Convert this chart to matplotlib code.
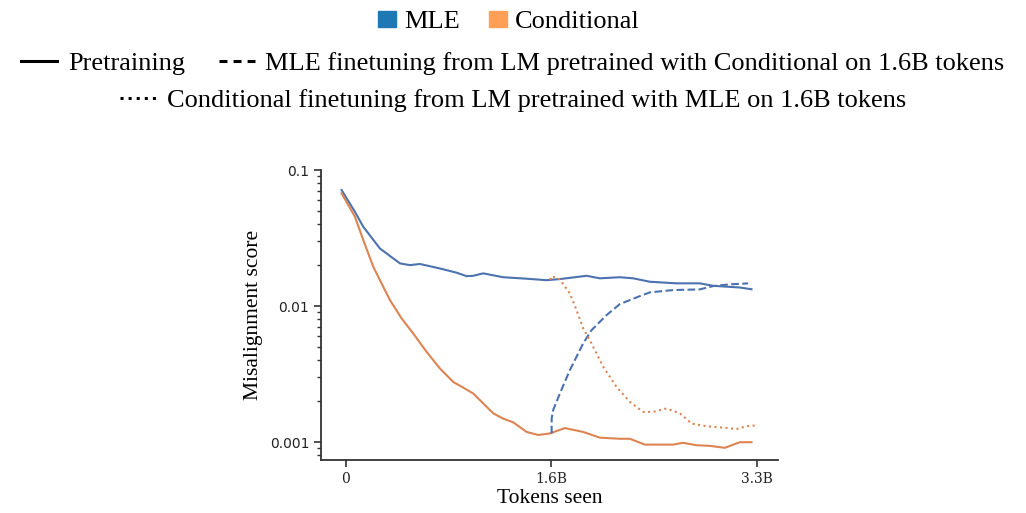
import matplotlib
matplotlib.use('Agg')
import matplotlib.pyplot as plt
from matplotlib.lines import Line2D
from matplotlib.patches import Patch
from matplotlib.ticker import LogLocator, FixedLocator, NullFormatter

# tokens seen (billions) and misalignment scores
mle_x = [-0.035, 0.072, 0.139, 0.273, 0.434, 0.514, 0.594, 0.755, 0.889, 0.969,
         1.022, 1.102, 1.263, 1.451, 1.611, 1.718, 1.933, 2.039, 2.200, 2.307,
         2.441, 2.655, 2.842, 2.949, 3.163, 3.257]
mle_y = [0.0713, 0.0493, 0.0383, 0.0265, 0.0206, 0.0200, 0.0204, 0.0189, 0.0176,
         0.0166, 0.0167, 0.0174, 0.0163, 0.0159, 0.0155, 0.0158, 0.0167, 0.0160,
         0.0163, 0.0160, 0.0151, 0.0147, 0.0147, 0.0141, 0.0137, 0.0133]

cond_x = [-0.035, 0.072, 0.139, 0.219, 0.299, 0.353, 0.447, 0.540, 0.648, 0.755,
          0.862, 0.942, 1.022, 1.102, 1.183, 1.263, 1.343, 1.451, 1.544, 1.638,
          1.758, 1.905, 2.039, 2.200, 2.280, 2.401, 2.628, 2.706, 2.816, 2.923,
          3.043, 3.163, 3.257]
cond_y = [0.0674, 0.0454, 0.0306, 0.0195, 0.0139, 0.0111, 0.00812, 0.00630,
          0.00461, 0.00348, 0.00277, 0.00252, 0.00228, 0.00193, 0.00163, 0.00149,
          0.00140, 0.00119, 0.00113, 0.00116, 0.00127, 0.00119, 0.00108, 0.00106,
          0.00106, 0.00096, 0.00096, 0.00099, 0.00095, 0.00094, 0.00091, 0.00100,
          0.00100]

# MLE finetuning from an LM pretrained with Conditional
mle_ft_x = [1.652, 1.652, 1.664, 1.718, 1.798, 1.905, 1.973, 2.093, 2.200, 2.361,
            2.441, 2.628, 2.842, 2.949, 3.083, 3.230]
mle_ft_y = [0.00116, 0.00149, 0.00172, 0.00228, 0.00338, 0.00532, 0.00667,
            0.00859, 0.01035, 0.01185, 0.01262, 0.01312, 0.01327, 0.01403,
            0.01445, 0.01469]

# Conditional finetuning from an LM pretrained with MLE
cond_ft_x = [1.640, 1.652, 1.718, 1.798, 1.852, 1.905, 1.959, 2.066, 2.173, 2.280,
             2.387, 2.467, 2.575, 2.682, 2.776, 2.896, 3.029, 3.137, 3.217, 3.298]
cond_ft_y = [0.0156, 0.01663, 0.01571, 0.01239, 0.00935, 0.00686, 0.00562,
             0.00358, 0.00255, 0.00198, 0.00167, 0.00167, 0.00177, 0.00163,
             0.00137, 0.00131, 0.00128, 0.00125, 0.00131, 0.00133]

x_ticks = [0, 1.65, 3.3]
x_ticklabels = ['0', '1.6B', '3.3B']
y_ticks = [0.001, 0.01, 0.1]
y_ticklabels = ['0.001', '0.01', '0.1']

BLUE = '#4c72b0'
ORANGE = '#dd8452'
SERIF = ['Liberation Serif', 'DejaVu Serif']

fig = plt.figure(figsize=(10.26, 5.13), dpi=100)
ax = fig.add_axes([0.3129, 0.1033, 0.4454, 0.5653])

ax.plot(mle_x, mle_y, color=BLUE, lw=1.5)
ax.plot(cond_x, cond_y, color=ORANGE, lw=1.5)
ax.plot(mle_ft_x, mle_ft_y, color=BLUE, lw=1.5, ls='--')
ax.plot(cond_ft_x, cond_ft_y, color=ORANGE, lw=1.5, ls=':')

ax.set_yscale('log')
ax.set_ylim(0.00074, 0.1)
ax.set_xlim(-0.2, 3.47)

ax.yaxis.set_major_locator(FixedLocator(y_ticks))
ax.set_yticklabels(y_ticklabels, fontsize=10, color='#222222')
ax.yaxis.set_minor_locator(LogLocator(base=10, subs=range(2, 10)))
ax.yaxis.set_minor_formatter(NullFormatter())
ax.set_xticks(x_ticks)
ax.set_xticklabels(x_ticklabels, fontsize=10, family='DejaVu Serif', color='#222222')

for side in ('top', 'right'):
    ax.spines[side].set_visible(False)
for side in ('left', 'bottom'):
    ax.spines[side].set_color('#333333')
    ax.spines[side].set_linewidth(1.3)
ax.tick_params(which='major', length=5, width=1.2, color='#333333')
ax.tick_params(which='minor', length=3, width=1.0, color='#333333')

ax.set_ylabel('Misalignment score', family=SERIF, fontsize=15.5, labelpad=5)
ax.set_xlabel('Tokens seen', family=SERIF, fontsize=15.5, labelpad=2)

# legends above the plot
prop = {'family': SERIF, 'size': 19}
common = dict(frameon=False, prop=prop, loc='center', borderaxespad=0)

color_handles = [Patch(color='#1f77b4', label='MLE'),
                 Patch(color='#ff9f55', label='Conditional')]
fig.legend(handles=color_handles, ncol=2, bbox_to_anchor=(0.496, 0.957),
           handlelength=0.7, handleheight=0.6, handletextpad=0.3,
           columnspacing=1.1, **common)

style_handles = [
    Line2D([], [], color='black', lw=2.2, ls='-', label='Pretraining'),
    Line2D([], [], color='black', lw=2.2, dashes=(2.6, 2.0),
           label='MLE finetuning from LM pretrained with Conditional on 1.6B tokens'),
]
fig.legend(handles=style_handles, ncol=2, bbox_to_anchor=(0.5, 0.877),
           handlelength=1.36, handletextpad=0.4, columnspacing=1.3, **common)

dotted = [Line2D([], [], color='black', lw=2.2, ls=':',
                 label='Conditional finetuning from LM pretrained with MLE on 1.6B tokens')]
fig.legend(handles=dotted, bbox_to_anchor=(0.5, 0.805),
           handlelength=1.36, handletextpad=0.4, **common)

fig.savefig('out.png', dpi=100)
